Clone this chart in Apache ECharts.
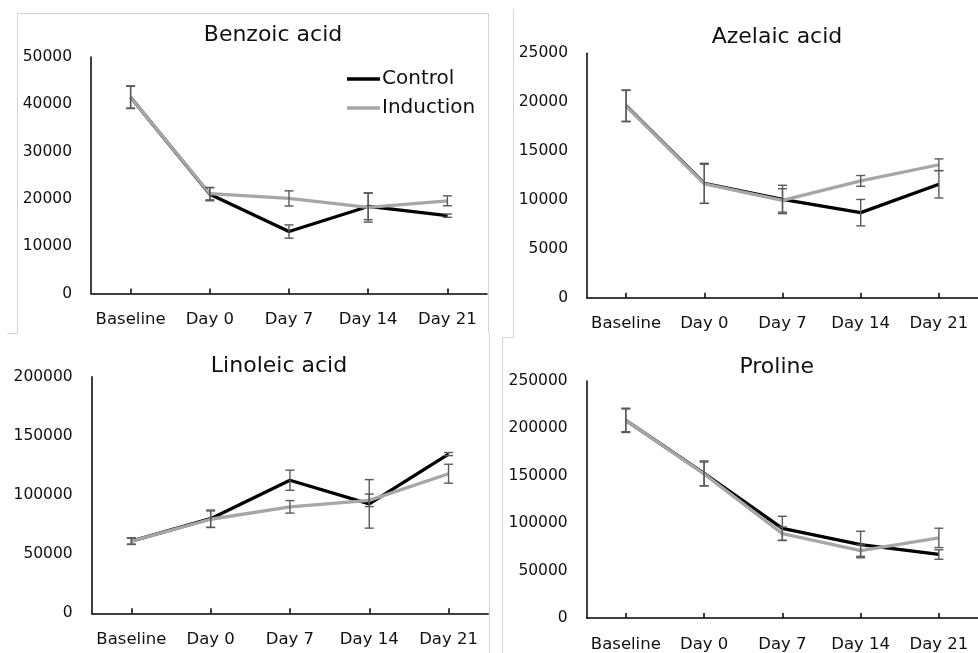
<!DOCTYPE html>
<html>
<head>
<meta charset="utf-8">
<script src="https://cdn.jsdelivr.net/npm/echarts@6/dist/echarts.min.js"></script>
<style>
html,body{margin:0;padding:0;background:#fff;}
#chart{width:978px;height:653px;}
</style>
</head>
<body>
<div id="chart"></div>
<script>
var categories = ['Baseline', 'Day 0', 'Day 7', 'Day 14', 'Day 21'];
var seriesNames = ['Control', 'Induction'];
var panelTitles = ['Benzoic acid', 'Azelaic acid', 'Linoleic acid', 'Proline'];

var benzoicControl = [41500, 21000, 13100, 18400, 16450];
var benzoicInduction = [41500, 21100, 20100, 18200, 19600];
var benzoicControlErr = [2400, 1400, 1400, 2800, 350];
var benzoicInductionErr = [2300, 1300, 1600, 3100, 1050];

var azelaicControl = [19650, 11700, 10050, 8700, 11600];
var azelaicInduction = [19600, 11650, 9950, 11950, 13600];
var azelaicControlErr = [1600, 2050, 1450, 1350, 1400];
var azelaicInductionErr = [1600, 2000, 1200, 550, 600];

var linoleicControl = [61000, 80000, 112500, 92500, 134600];
var linoleicInduction = [61000, 79500, 90000, 95500, 118000];
var linoleicControlErr = [2800, 7300, 8500, 20500, 1300];
var linoleicInductionErr = [2500, 7000, 5300, 5300, 8000];

var prolineControl = [208500, 152500, 94500, 77500, 67000];
var prolineInduction = [208500, 152000, 89000, 71000, 84500];
var prolineControlErr = [12800, 13200, 12800, 14000, 5000];
var prolineInductionErr = [12000, 12500, 7000, 6000, 10200];

var yMax = [50000, 25000, 200000, 250000];
var yInterval = [10000, 5000, 50000, 50000];

var panels = [
  {c: benzoicControl, i: benzoicInduction, ce: benzoicControlErr, ie: benzoicInductionErr},
  {c: azelaicControl, i: azelaicInduction, ce: azelaicControlErr, ie: azelaicInductionErr},
  {c: linoleicControl, i: linoleicInduction, ce: linoleicControlErr, ie: linoleicInductionErr},
  {c: prolineControl, i: prolineInduction, ce: prolineControlErr, ie: prolineInductionErr}
];

var FONT = 'DejaVu Sans';
var grids = [
  {left: 91, top: 57, width: 396, height: 236.5},
  {left: 587, top: 53.3, width: 396, height: 244.4},
  {left: 91.7, top: 376.7, width: 396.5, height: 236.6},
  {left: 586.7, top: 381, width: 397, height: 237.3}
];
var titlePos = [
  {x: 273, top: 24},
  {x: 777, top: 26.5},
  {x: 279, top: 355},
  {x: 776.7, top: 356.5}
];

function errData(vals, errs) {
  return vals.map(function (v, k) { return [k, v - errs[k], v + errs[k]]; });
}

function renderErr(params, api) {
  var x = api.value(0);
  var lo = api.coord([x, api.value(1)]);
  var hi = api.coord([x, api.value(2)]);
  var w = 4.5;
  var st = {stroke: '#5a5a5a', lineWidth: 1.4};
  return {
    type: 'group',
    children: [
      {type: 'line', shape: {x1: hi[0], y1: hi[1], x2: lo[0], y2: lo[1]}, style: st},
      {type: 'line', shape: {x1: hi[0] - w, y1: hi[1], x2: hi[0] + w, y2: hi[1]}, style: st},
      {type: 'line', shape: {x1: lo[0] - w, y1: lo[1], x2: lo[0] + w, y2: lo[1]}, style: st}
    ]
  };
}

var xAxes = [], yAxes = [], series = [], titles = [];
panels.forEach(function (p, g) {
  xAxes.push({
    type: 'category', gridIndex: g, data: categories, boundaryGap: true,
    axisLine: {lineStyle: {color: '#000', width: 1.5}},
    axisTick: {show: true, inside: true, length: 5, alignWithLabel: true, lineStyle: {color: '#000', width: 1.5}},
    axisLabel: {color: '#111', fontFamily: FONT, fontSize: 16.5, margin: 18, interval: 0},
    splitLine: {show: false}
  });
  yAxes.push({
    type: 'value', gridIndex: g, min: 0, max: yMax[g], interval: yInterval[g],
    axisLine: {show: true, lineStyle: {color: '#000', width: 1.5}},
    axisTick: {show: false},
    axisLabel: {color: '#111', fontFamily: FONT, fontSize: 15.5, margin: 19,
      formatter: function (v) { return String(v); }},
    splitLine: {show: false}
  });
  titles.push({
    text: panelTitles[g], left: titlePos[g].x, top: titlePos[g].top, textAlign: 'center',
    padding: 0,
    textStyle: {fontFamily: FONT, fontSize: 22, fontWeight: 'normal', color: '#111'}
  });
  series.push({
    name: 'Control', type: 'line', xAxisIndex: g, yAxisIndex: g, data: p.c,
    showSymbol: false, symbol: 'none', lineStyle: {color: '#000', width: 3.3}, itemStyle: {color: '#000'},
    z: 2, animation: false
  });
  series.push({
    name: 'Induction', type: 'line', xAxisIndex: g, yAxisIndex: g, data: p.i,
    showSymbol: false, symbol: 'none', lineStyle: {color: '#a6a6a6', width: 3.3}, itemStyle: {color: '#a6a6a6'},
    z: 3, animation: false
  });
  series.push({
    type: 'custom', xAxisIndex: g, yAxisIndex: g, data: errData(p.c, p.ce),
    renderItem: renderErr, encode: {x: 0, y: [1, 2]}, z: 4, silent: true, animation: false
  });
  series.push({
    type: 'custom', xAxisIndex: g, yAxisIndex: g, data: errData(p.i, p.ie),
    renderItem: renderErr, encode: {x: 0, y: [1, 2]}, z: 4, silent: true, animation: false
  });
});

var bc = '#d4d4d4';
function ln(x1, y1, x2, y2) {
  return {type: 'line', shape: {x1: x1, y1: y1, x2: x2, y2: y2}, style: {stroke: bc, lineWidth: 1}, silent: true};
}

var chart = echarts.init(document.getElementById('chart'), null, {renderer: 'canvas'});
chart.setOption({
  backgroundColor: '#fff',
  animation: false,
  title: titles,
  legend: {
    data: seriesNames, orient: 'vertical', left: 342, top: 64, itemGap: 9,
    itemWidth: 33, itemHeight: 3.3, icon: 'rect',
    textStyle: {fontFamily: FONT, fontSize: 20, color: '#111', lineHeight: 20, padding: [0, 0, 0, -3]},
    selectedMode: false
  },
  grid: grids,
  xAxis: xAxes,
  yAxis: yAxes,
  series: series,
  graphic: [
    ln(17, 13.5, 488.5, 13.5),
    ln(17.5, 13, 17.5, 333.5),
    ln(7, 333.5, 17.5, 333.5),
    ln(488.5, 13, 488.5, 333),
    ln(489.5, 333, 489.5, 653),
    ln(513.5, 9, 513.5, 337.5),
    ln(502.5, 337.5, 513.5, 337.5),
    ln(502.5, 337, 502.5, 653)
  ]
});
</script>
</body>
</html>
